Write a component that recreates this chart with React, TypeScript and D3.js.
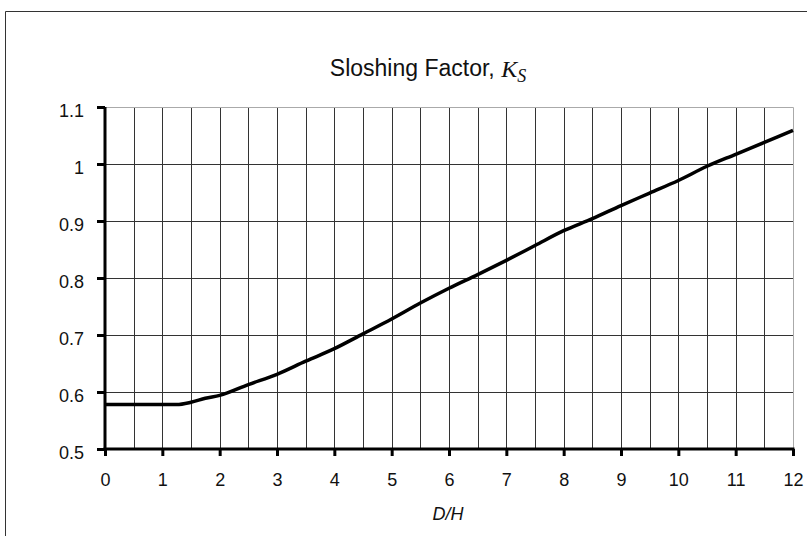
import React, { useEffect, useRef } from 'react';
import * as d3 from 'd3';

const ratioDH = [0, 0.5, 1, 1.25, 1.5, 1.75, 2, 2.5, 3, 3.5, 4, 4.5, 5, 5.5, 6, 6.5, 7, 7.5, 8, 8.5, 9, 9.5, 10, 10.5, 11, 11.5, 12];
const ksValues = [0.578, 0.578, 0.578, 0.578, 0.582, 0.589, 0.594, 0.613, 0.631, 0.654, 0.676, 0.702, 0.728, 0.756, 0.782, 0.806, 0.831, 0.857, 0.883, 0.904, 0.927, 0.949, 0.971, 0.996, 1.017, 1.038, 1.059];
const xTicks = [0, 1, 2, 3, 4, 5, 6, 7, 8, 9, 10, 11, 12];
const yTicks = [0.5, 0.6, 0.7, 0.8, 0.9, 1.0, 1.1];

const W = 807;
const H = 536;
const margin = { left: 105, right: 14, top: 107, bottom: 87 };

export default function App() {
  const svgRef = useRef<SVGSVGElement>(null);

  useEffect(() => {
    if (!svgRef.current) return;
    const svg = d3.select(svgRef.current);
    svg.selectAll('*').remove();

    const x = d3.scaleLinear().domain([0, 12]).range([margin.left, W - margin.right]);
    const y = d3.scaleLinear().domain([0.5, 1.1]).range([H - margin.bottom, margin.top]);

    // outer frame (only top and left visible)
    svg.append('path')
      .attr('d', `M5.5,${H} V11.5 H${W}`)
      .attr('fill', 'none')
      .attr('stroke', '#333')
      .attr('stroke-width', 1);

    // title
    const title = svg.append('text')
      .attr('x', 428)
      .attr('y', 76)
      .attr('text-anchor', 'middle')
      .attr('font-family', 'Liberation Sans, Arial, sans-serif')
      .attr('font-size', 23)
      .attr('fill', '#111');
    title.append('tspan').text('Sloshing Factor, ');
    title.append('tspan')
      .attr('font-family', 'Liberation Serif, Times New Roman, serif')
      .attr('font-style', 'italic')
      .attr('font-size', 24)
      .attr('dy', 1)
      .text('K');
    title.append('tspan')
      .attr('font-family', 'Liberation Serif, Times New Roman, serif')
      .attr('font-style', 'italic')
      .attr('font-size', 18)
      .attr('dy', 5)
      .text('S');

    // grid
    const halfSteps = d3.range(0.5, 12, 0.5);
    svg.append('g')
      .selectAll('line')
      .data(halfSteps)
      .join('line')
      .attr('x1', d => Math.round(x(d)) + 0.5)
      .attr('x2', d => Math.round(x(d)) + 0.5)
      .attr('y1', y(1.1))
      .attr('y2', y(0.5))
      .attr('stroke', '#333')
      .attr('stroke-width', 1);

    svg.append('g')
      .selectAll('line')
      .data(yTicks.filter(d => d > 0.5 && d < 1.1))
      .join('line')
      .attr('x1', x(0))
      .attr('x2', x(12))
      .attr('y1', d => Math.round(y(d)) + 0.5)
      .attr('y2', d => Math.round(y(d)) + 0.5)
      .attr('stroke', '#333')
      .attr('stroke-width', 1);

    // top and right border of plot area
    svg.append('path')
      .attr('d', `M${x(0)},${Math.round(y(1.1)) + 0.5} H${Math.round(x(12)) + 0.5} V${y(0.5)}`)
      .attr('fill', 'none')
      .attr('stroke', '#aaa')
      .attr('stroke-width', 1);

    // axes
    const yAxis = d3.axisLeft(y)
      .tickValues(yTicks)
      .tickSize(8)
      .tickPadding(13)
      .tickFormat(d => String(+d));
    const gy = svg.append('g').attr('transform', `translate(${x(0)},0)`).call(yAxis);
    gy.select('.domain').attr('stroke', '#000').attr('stroke-width', 3).attr('d', `M0,${y(1.1)}V${y(0.5)}`);
    gy.selectAll('.tick line').attr('stroke', '#000').attr('stroke-width', 3);
    gy.selectAll('.tick text')
      .attr('font-family', 'Liberation Sans, Arial, sans-serif')
      .attr('font-size', 18)
      .attr('dy', '0.5em')
      .attr('fill', '#111');

    const xAxis = d3.axisBottom(x)
      .tickValues(xTicks)
      .tickSize(7)
      .tickPadding(17)
      .tickFormat(d => String(d));
    const gx = svg.append('g').attr('transform', `translate(0,${y(0.5)})`).call(xAxis);
    gx.select('.domain').attr('stroke', '#000').attr('stroke-width', 3).attr('d', `M${x(0) - 1.5},0H${x(12) + 1.5}`);
    gx.selectAll('.tick line').attr('stroke', '#000').attr('stroke-width', 3);
    gx.selectAll('.tick text')
      .attr('font-family', 'Liberation Sans, Arial, sans-serif')
      .attr('font-size', 18)
      .attr('fill', '#111');

    // x axis label
    svg.append('text')
      .attr('x', 448)
      .attr('y', 520)
      .attr('text-anchor', 'middle')
      .attr('font-family', 'Liberation Sans, Arial, sans-serif')
      .attr('font-style', 'italic')
      .attr('font-size', 18)
      .attr('fill', '#111')
      .text('D/H');

    // curve
    const line = d3.line<number>()
      .x((_, i) => x(ratioDH[i]))
      .y(d => y(d))
      .curve(d3.curveMonotoneX);

    svg.append('path')
      .datum(ksValues)
      .attr('fill', 'none')
      .attr('stroke', '#000')
      .attr('stroke-width', 3.5)
      .attr('stroke-linejoin', 'round')
      .attr('d', line);
  }, []);

  return (
    <svg
      ref={svgRef}
      width={W}
      height={H}
      style={{ position: 'absolute', left: 0, top: 0, background: '#fff' }}
    />
  );
}
